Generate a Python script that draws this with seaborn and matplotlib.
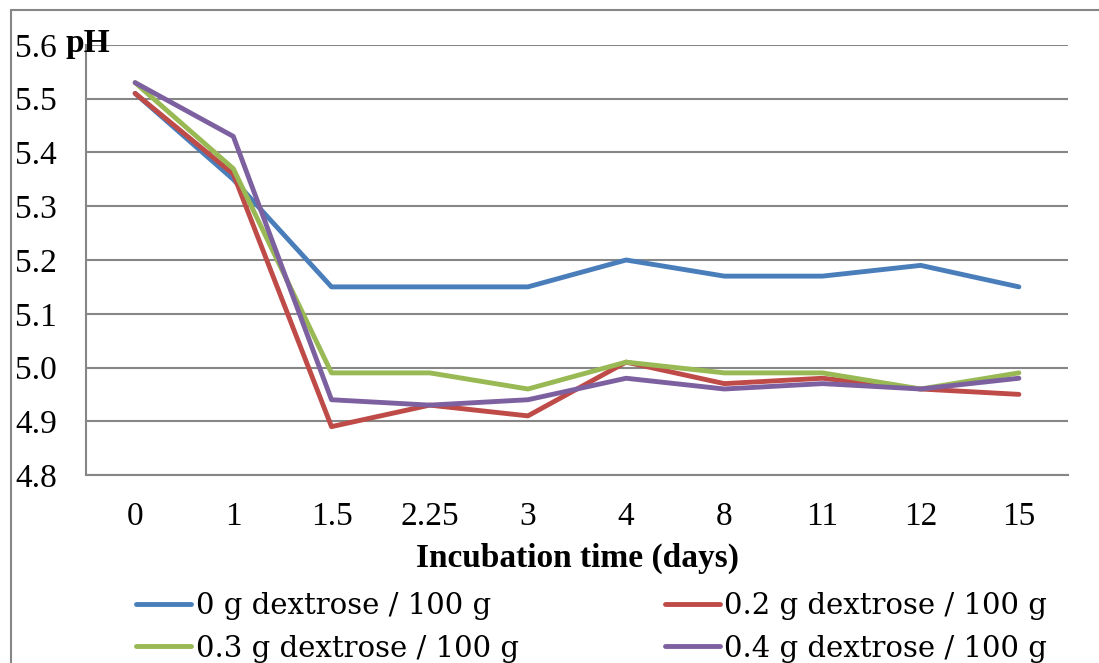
import matplotlib
matplotlib.use("Agg")
import matplotlib.pyplot as plt
from matplotlib.lines import Line2D
import seaborn as sns
import pandas as pd

days = ["0", "1", "1.5", "2.25", "3", "4", "8", "11", "12", "15"]
series_names = ["0 g dextrose / 100 g", "0.2 g dextrose / 100 g",
                "0.3 g dextrose / 100 g", "0.4 g dextrose / 100 g"]
ph_0 = [5.51, 5.35, 5.15, 5.15, 5.15, 5.20, 5.17, 5.17, 5.19, 5.15]
ph_02 = [5.51, 5.36, 4.89, 4.93, 4.91, 5.01, 4.97, 4.98, 4.96, 4.95]
ph_03 = [5.53, 5.37, 4.99, 4.99, 4.96, 5.01, 4.99, 4.99, 4.96, 4.99]
ph_04 = [5.53, 5.43, 4.94, 4.93, 4.94, 4.98, 4.96, 4.97, 4.96, 4.98]
colors = ["#4A7EBB", "#BE4B48", "#98B954", "#7D60A0"]

frames = []
for name, vals in zip(series_names, [ph_0, ph_02, ph_03, ph_04]):
    frames.append(pd.DataFrame({"day": days, "pH": vals, "series": name}))
df = pd.concat(frames, ignore_index=True)

sns.set_theme(style="white")
plt.rcParams["font.family"] = ["Liberation Serif", "DejaVu Serif"]
plt.rcParams["text.color"] = "black"
plt.rcParams["xtick.color"] = "black"
plt.rcParams["ytick.color"] = "black"
plt.rcParams["axes.labelcolor"] = "black"
FS = 24

fig = plt.figure(figsize=(10.99, 6.63), dpi=100)
ax = fig.add_axes([86 / 1099, 1 - 475 / 663, (1068 - 86) / 1099, (475 - 45) / 663])

sns.lineplot(data=df, x="day", y="pH", hue="series", palette=colors,
             linewidth=3.5, ax=ax, sort=False, legend=True)
for ln in ax.get_lines():
    ln.set_solid_capstyle("round")
    ln.set_solid_joinstyle("round")

ax.set_xlim(-0.5, len(days) - 0.5)
ax.set_ylim(4.8, 5.6)
ax.set_yticks([4.8, 4.9, 5.0, 5.1, 5.2, 5.3, 5.4, 5.5, 5.6])
ax.set_yticklabels([f"{v:.1f}" for v in ax.get_yticks()])
ax.yaxis.grid(True, color="#868686", linewidth=1.5)
ax.xaxis.grid(False)
ax.set_axisbelow(True)
for side in ["top", "right"]:
    ax.spines[side].set_visible(False)
for side in ["left", "bottom"]:
    ax.spines[side].set_color("#868686")
    ax.spines[side].set_linewidth(1.5)
ax.tick_params(axis="y", length=0, pad=21, labelsize=FS)
ax.tick_params(axis="x", length=0, pad=19, labelsize=FS)
ax.set_ylabel("")
ax.set_xlabel("Incubation time (days)", fontsize=FS, fontweight="bold", labelpad=8)

fig.text(65 / 1099, 1 - 52 / 663, "pH", fontsize=FS, fontweight="bold",
         ha="left", va="baseline")

handles, labels = ax.get_legend_handles_labels()
ax.get_legend().remove()
order = [0, 2, 1, 3]
leg = fig.legend([handles[i] for i in order], [labels[i] for i in order],
                 ncol=2, loc="upper left", bbox_to_anchor=(136 / 1099, 1 - 592 / 663),
                 frameon=False, handlelength=1.9, handletextpad=0.15,
                 columnspacing=5.0, labelspacing=0.5, borderaxespad=0, borderpad=0,
                 prop={"family": "DejaVu Serif", "size": 21})
for h in leg.get_lines():
    h.set_linewidth(3.5)
    h.set_solid_capstyle("round")

# chart frame (left and top edges)
fx, fy = 11 / 1099, 1 - 10 / 663
fig.add_artist(Line2D([fx, fx], [0, fy], transform=fig.transFigure, color="#868686", linewidth=1.5))
fig.add_artist(Line2D([fx, 1], [fy, fy], transform=fig.transFigure, color="#868686", linewidth=1.5))

fig.savefig("out.png", dpi=100)
